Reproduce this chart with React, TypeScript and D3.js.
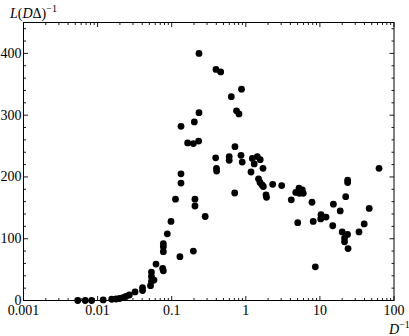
import { useRef, useEffect } from "react";
import * as d3 from "d3";

// rising branch (small D^-1)
const risingD = [
  0.0054, 0.0068, 0.0083, 0.0119, 0.0155, 0.0177, 0.0198, 0.022, 0.0241, 0.0268,
  0.032, 0.0404, 0.0404, 0.0518, 0.0533, 0.0533, 0.0533, 0.0577, 0.0614, 0.0755,
  0.0771, 0.0771, 0.0771, 0.0771, 0.0872, 0.0978, 0.129, 0.196, 0.1125, 0.206,
  0.206, 0.283, 0.1335, 0.1335, 0.1335, 0.202, 0.2335, 0.164, 0.196, 0.231, 0.2335,
];
const risingL = [
  0, 0, 0, 1, 2, 2.4, 3.2, 4.5, 6.5, 8.9,
  13.8, 21, 16, 24, 31, 39, 46, 33, 59, 52,
  48, 92, 87, 79, 108, 128, 71, 80, 164, 164,
  153, 136, 205, 190, 282, 289, 304, 255, 254, 258, 400,
];

// falling branch (large D^-1)
const fallingD = [
  0.396, 0.458, 0.875, 0.637, 0.749, 0.809, 0.714, 0.392, 0.597, 0.597,
  0.861, 0.894, 1.224, 1.429, 1.564, 1.298, 1.707, 0.402, 0.404, 1.175,
  1.484, 1.555, 1.654, 1.723, 2.307, 3.05, 0.708, 1.873, 1.903, 5.22,
  5.79, 4.72, 5.97, 5.31, 4.11, 7.82, 15.2, 18.8, 10.35, 12.1,
  10.25, 8.12, 5.02, 14.9, 22.3, 23.7, 23.7, 62.8, 46.3, 39.6,
  33.7, 20.0, 23.6, 21.5, 21.5, 24.0, 8.67,
];
const fallingL = [
  374, 370, 342, 330, 307, 302, 249, 231, 233, 227,
  235, 224, 230, 233, 228, 221, 214, 214, 209.5, 208,
  197, 191, 187, 184.5, 188, 186, 174, 171, 167, 182,
  179, 175, 173.5, 173.5, 163, 159, 156, 145, 139, 135,
  132, 128, 126, 121, 168, 195, 191, 214, 149, 124,
  111, 111, 107, 101, 95, 84, 54.5,
];

const yTickLabels = ["0", "100", "200", "300", "400"];
const xTickLabels = ["0.001", "0.01", "0.1", "1", "10", "100"];

export default function App() {
  const svgRef = useRef<SVGSVGElement>(null);

  useEffect(() => {
    const svg = d3.select(svgRef.current);
    svg.selectAll("*").remove();

    const x = d3.scaleLog().domain([0.001, 100]).range([23.5, 394]);
    const y = d3.scaleLinear().domain([0, 450]).range([300.5, 22.5]);
    const [x0, x1] = x.range();
    const [y0, y1] = y.range();
    const font = "'Liberation Serif', 'Times New Roman', serif";

    // frame
    svg
      .append("rect")
      .attr("x", x0)
      .attr("y", y1)
      .attr("width", x1 - x0)
      .attr("height", y0 - y1)
      .attr("fill", "none")
      .attr("stroke", "#000")
      .attr("stroke-width", 1);

    // x ticks (bottom and top, pointing inward)
    const xMinor: number[] = [];
    for (let e = -3; e < 2; e++) {
      for (let m = 2; m <= 9; m++) xMinor.push(m * Math.pow(10, e));
    }
    const xMajor = xTickLabels.map(Number);
    const ticks = svg.append("g").attr("stroke", "#000").attr("stroke-width", 0.9);
    const addX = (vals: number[], len: number) => {
      vals.forEach((v) => {
        ticks.append("line").attr("x1", x(v)).attr("x2", x(v)).attr("y1", y0).attr("y2", y0 - len);
        ticks.append("line").attr("x1", x(v)).attr("x2", x(v)).attr("y1", y1).attr("y2", y1 + len);
      });
    };
    addX(xMajor, 4.5);
    addX(xMinor, 2.5);

    // y ticks (left and right)
    const yMajor = yTickLabels.map(Number);
    const yMinor = d3.range(20, 450, 20).filter((v) => v % 100 !== 0);
    const addY = (vals: number[], len: number) => {
      vals.forEach((v) => {
        ticks.append("line").attr("x1", x0).attr("x2", x0 + len).attr("y1", y(v)).attr("y2", y(v));
        ticks.append("line").attr("x1", x1).attr("x2", x1 - len).attr("y1", y(v)).attr("y2", y(v));
      });
    };
    addY(yMajor, 4.5);
    addY(yMinor, 2.5);

    // tick labels
    svg
      .append("g")
      .selectAll("text")
      .data(xTickLabels)
      .join("text")
      .attr("x", (d) => x(Number(d)))
      .attr("y", 315)
      .attr("text-anchor", "middle")
      .attr("font-family", font)
      .attr("font-size", 14)
      .text((d) => d);

    svg
      .append("g")
      .selectAll("text")
      .data(yTickLabels)
      .join("text")
      .attr("x", x0 - 2)
      .attr("y", (d) => y(Number(d)) + 4.5)
      .attr("text-anchor", "end")
      .attr("font-family", font)
      .attr("font-size", 14)
      .text((d) => d);

    // axis titles
    const yt = svg
      .append("text")
      .attr("x", 10)
      .attr("y", 18)
      .attr("font-family", font)
      .attr("font-size", 14);
    yt.append("tspan").attr("font-style", "italic").text("L");
    yt.append("tspan").text("(");
    yt.append("tspan").attr("font-style", "italic").text("D");
    yt.append("tspan").text("Δ)");
    yt.append("tspan").attr("font-size", 10).attr("dy", -6).text("−1");

    const xt = svg
      .append("text")
      .attr("x", 389)
      .attr("y", 334)
      .attr("font-family", font)
      .attr("font-size", 14);
    xt.append("tspan").attr("font-style", "italic").text("D");
    xt.append("tspan").attr("font-size", 10).attr("dy", -6).text("−1");

    // points
    const pts = [
      ...risingD.map((d, i) => [d, risingL[i]]),
      ...fallingD.map((d, i) => [d, fallingL[i]]),
    ];
    svg
      .append("g")
      .selectAll("circle")
      .data(pts)
      .join("circle")
      .attr("cx", (d) => x(d[0]))
      .attr("cy", (d) => y(d[1]))
      .attr("r", 3.4)
      .attr("fill", "#000");
  }, []);

  return (
    <svg
      ref={svgRef}
      width={409}
      height={336}
      style={{ position: "absolute", left: 0, top: 0, background: "#fff" }}
    />
  );
}
